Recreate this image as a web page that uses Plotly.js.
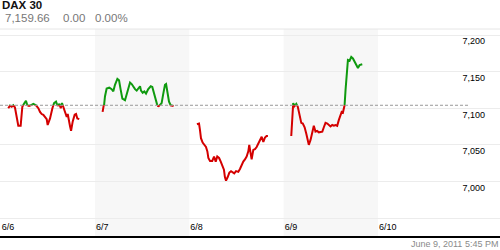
<!DOCTYPE html>
<html>
<head>
<meta charset="utf-8">
<script src="https://cdn.plot.ly/plotly-3.0.1.min.js"></script>
<style>html,body{margin:0;padding:0;background:#fff;}#chart{width:500px;height:250px;}</style>
</head>
<body>
<div id="chart"></div>
<script>
// ---- data (minutes after the 9:00 open, index level) ----
const dayLabels = ['6/6', '6/7', '6/8', '6/9', '6/10'];

const mins66 = [0,12,25,36,48,56,65,72,89,96,101,113,127,137,149,161,180,199,216,228,240,252,264,276,283,300,317,329,343,355,367,377,386,400,413,420,427,437,444,451,463,477,487,496,510];
const vals66 = [7100,7103.5,7102,7104,7101,7093,7082,7076,7076,7088,7102,7106,7110,7104,7103,7104,7106,7104,7100,7095,7092,7091,7088,7085,7077,7086,7100,7107,7109,7103,7106,7100,7107,7100,7093,7088,7092,7079,7075,7069,7082,7091,7092,7086,7085];

const mins67 = [0,10,17,29,48,65,77,89,106,118,130,142,161,173,185,197,209,221,233,245,256,269,276,288,300,312,328,346,357,369,381,393,400,412,424,436,448,456,465,477,489,504,510];
const vals67 = [7095,7103,7116,7127,7128,7126,7123,7132,7140,7138,7125,7113,7111,7120,7129,7135,7133,7129,7126,7124,7127,7130,7124,7121,7123,7120,7126,7130,7129,7120,7112,7104,7102,7105,7107,7120,7132,7133,7120,7109,7104,7103,7103];

const mins68 = [0,15,22,29,41,53,65,75,82,94,110,123,135,146,159,171,182,194,201,209,221,233,245,257,268,281,297,309,321,333,345,357,369,376,386,393,405,417,429,441,453,465,477,489,500,510];
const vals68 = [7078,7079,7070,7059,7053,7049,7047,7041,7032,7028,7028,7034,7027,7034,7032,7027,7022,7016,7006,7001,7006,7012,7014,7012,7011,7014,7013,7017,7023,7027,7030,7034,7041,7050,7038,7030,7043,7044,7047,7052,7057,7061,7054,7060,7062,7062];

const mins69 = [0,7,14,24,36,47,60,72,83,96,108,119,126,139,151,162,174,186,198,210,223,234,246,259,270,282,294,306,318,330,342,355,362,371,378,383,390,398,407,419,431,443,455,470,479,491,503,510];
const vals69 = [7062,7084,7107,7103,7106,7102,7091,7080,7079,7074,7065,7054,7050,7057,7066,7076,7068,7069,7067,7068,7068,7074,7080,7079,7077,7075,7077,7076,7077,7076,7084,7091,7095,7094,7098,7104,7125,7143,7166,7165,7170,7168,7164,7159,7155,7159,7160,7160];

const prevClose = 7104;             // dotted reference line
const yTickVals = [6950, 7000, 7050, 7100, 7150, 7200];
const yTickText = ['', '7,000', '7,050', '7,100', '7,150', '7,200'];
const header = {name: 'DAX 30', last: '7,159.66', chg: '0.00', pct: '0.00%'};
const stamp = 'June 9, 2011 5:45 PM';

// ---- layout constants ----
const W = 500, H = 250, TOP = 29, BOTTOM = 236;
const DAYPX = 94.33, DAY0PX = 0.67;
const OPEN = 7.6 / DAYPX, SESSION = 71 / DAYPX, SESSIONMIN = 510;
const pxPerPt = 36.6 / 50;
const Y_LO = 6950 - (BOTTOM - 218) / pxPerPt;
const Y_HI = 7200 + (35 - TOP) / pxPerPt;
const refFrac = (prevClose - Y_LO) / (Y_HI - Y_LO);
const plotH = BOTTOM - TOP;
const py = px => (BOTTOM - px) / plotH;

const series = [[mins66, vals66], [mins67, vals67], [mins68, vals68], [mins69, vals69]];
const xs = [], ys = [];
series.forEach(([m, v], d) => {
  m.forEach((mm, i) => { xs.push(d + OPEN + SESSION * mm / SESSIONMIN); ys.push(v[i]); });
  xs.push(null); ys.push(null);
});

const traces = [
  {x: xs, y: ys, xaxis: 'x', yaxis: 'y3', type: 'scatter', mode: 'lines',
   line: {color: '#d40000', width: 2}, hoverinfo: 'skip', connectgaps: false},
  {x: xs, y: ys, xaxis: 'x', yaxis: 'y2', type: 'scatter', mode: 'lines',
   line: {color: '#0f9a0f', width: 2}, hoverinfo: 'skip', connectgaps: false}
];

const shapes = [];
[1, 3].forEach(d => shapes.push({type: 'rect', xref: 'x', yref: 'paper', x0: d, x1: d + 1, y0: 0, y1: 1,
  fillcolor: '#f7f7f7', line: {width: 0}, layer: 'below'}));
shapes.push({type: 'line', xref: 'paper', yref: 'paper', x0: 0, x1: 1, y0: 1, y1: 1,
  line: {color: '#e6e6e6', width: 1}});
shapes.push({type: 'line', xref: 'paper', yref: 'y', x0: 0, x1: 470 / W, y0: prevClose, y1: prevClose,
  line: {color: '#999999', width: 1, dash: '3px,2px'}});

const font = 'Liberation Sans, Arial, sans-serif';
const annotations = [
  {text: '<b>' + header.name + '</b>', xref: 'paper', yref: 'paper', x: 1 / W, y: py(5.5), xanchor: 'left', yanchor: 'middle',
   showarrow: false, borderpad: 0, font: {family: font, size: 11.5, color: '#111'}},
  {text: header.last, xref: 'paper', yref: 'paper', x: 4 / W, y: py(18), xanchor: 'left', yanchor: 'middle',
   showarrow: false, borderpad: 0, font: {family: font, size: 11.5, color: '#777'}},
  {text: header.chg, xref: 'paper', yref: 'paper', x: 62 / W, y: py(18), xanchor: 'left', yanchor: 'middle',
   showarrow: false, borderpad: 0, font: {family: font, size: 11.5, color: '#777'}},
  {text: header.pct, xref: 'paper', yref: 'paper', x: 94 / W, y: py(18), xanchor: 'left', yanchor: 'middle',
   showarrow: false, borderpad: 0, font: {family: font, size: 11.5, color: '#777'}},
  {text: stamp, xref: 'paper', yref: 'paper', x: 499 / W, y: py(244), xanchor: 'right', yanchor: 'middle',
   showarrow: false, borderpad: 0, font: {family: font, size: 9, color: '#8a8a8a'}}
];

const layout = {
  width: W, height: H,
  margin: {l: 0, r: 0, t: TOP, b: H - BOTTOM, pad: 0},
  paper_bgcolor: '#ffffff', plot_bgcolor: 'rgba(0,0,0,0)',
  showlegend: false,
  xaxis: {range: [(0 - DAY0PX) / DAYPX, (W - DAY0PX) / DAYPX], tickvals: [0, 1, 2, 3, 4], ticktext: dayLabels,
    ticks: '', showgrid: false, zeroline: false, showline: true, linecolor: '#000', linewidth: 2,
    ticklabelposition: 'inside right', tickfont: {family: font, size: 9, color: '#000'}, fixedrange: true},
  yaxis: {range: [Y_LO, Y_HI], domain: [0, 1], side: 'right', tickvals: yTickVals, ticktext: yTickText,
    ticks: '', showgrid: true, gridcolor: '#ececec', gridwidth: 1, zeroline: false, showline: false,
    ticklabelposition: 'inside bottom', ticklabelstandoff: 12, tickfont: {family: font, size: 9, color: '#000'}},
  yaxis2: {range: [prevClose, Y_HI], domain: [refFrac, 1], anchor: 'x', visible: false, showgrid: false, zeroline: false},
  yaxis3: {range: [Y_LO, prevClose], domain: [0, refFrac], anchor: 'x', visible: false, showgrid: false, zeroline: false},
  shapes: shapes,
  annotations: annotations
};

Plotly.newPlot('chart', traces, layout, {displayModeBar: false, staticPlot: true});
</script>
</body>
</html>
